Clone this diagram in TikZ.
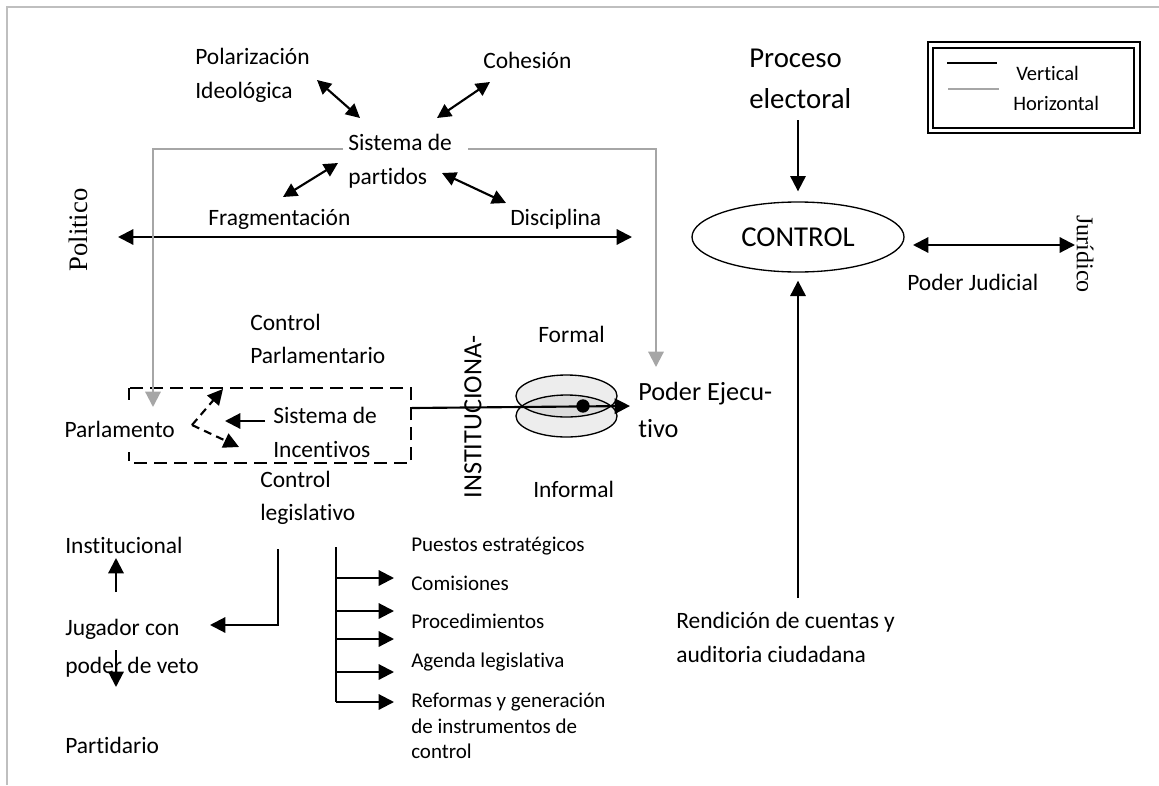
\documentclass[tikz,border=0pt]{standalone}
\usepackage{fontspec}
\setmainfont{Carlito}[RawFeature=-liga, RawFeature=-clig, RawFeature=-calt]
\newfontfamily\serifJ{Liberation Serif}
\usetikzlibrary{arrows.meta,shapes.geometric}
\definecolor{bordergray}{RGB}{191,191,191}
\definecolor{linegray}{RGB}{166,166,166}
\tikzset{
  txtA/.style={inner sep=0pt, anchor=base west, font=\fontsize{17.6}{21}\selectfont},
  txtB/.style={txtA, font=\fontsize{19.7}{24}\selectfont},
  txtC/.style={txtA, font=\fontsize{21.6}{26}\selectfont},
  txtL/.style={txtA, font=\fontsize{15.4}{18}\selectfont},
  txtS/.style={txtA, font=\fontsize{15.75}{19}\selectfont},
  blk/.style={line width=1.6pt, draw=black},
  oneway/.style={blk, -{Triangle[length=11.5pt,width=11.5pt]}},
  twoway/.style={blk, {Triangle[length=11.5pt,width=11.5pt]}-{Triangle[length=11.5pt,width=11.5pt]}},
  smallway/.style={blk, {Triangle[length=10.5pt,width=10.5pt]}-{Triangle[length=10.5pt,width=10.5pt]}},
  grayway/.style={line width=1.6pt, draw=linegray, -{Triangle[length=11.5pt,width=11.5pt]}},
  dashway/.style={oneway, dash pattern=on 6pt off 4pt},
  dashbox/.style={line width=1.6pt, dash pattern=on 10pt off 5pt},
  disc/.style={draw=black, line width=1pt, fill=black, fill opacity=0.07, draw opacity=1}
}
\begin{document}
\begin{tikzpicture}[x=0.75pt,y=-0.75pt]
\useasboundingbox (0,0) rectangle (1159,785);
% frame
\draw[bordergray, line width=1.5pt] (7,785) -- (7,7) -- (1159,7);

% legend
\draw[line width=1.6pt] (928,42) rectangle (1140,133);
\draw[line width=0.8pt] (933,48) rectangle (1134,128);
\coordinate (lva) at (947,63); \coordinate (lvb) at (997,63);
\coordinate (lha) at (948,89); \coordinate (lhb) at (999,89);
\draw[blk] (lva) -- (lvb);
\draw[line width=1.5pt, draw=linegray] (lha) -- (lhb);
\node[txtL] (leg1) at (1016,80) {Vertical};
\node[txtL] (leg2) at (1013,110) {Horizontal};

% party system
\node[txtA] (pol1) at (195,64) {Polarización};
\node[txtA] (pol2) at (195,98) {Ideológica};
\node[txtA] (coh) at (483,68) {Cohesión};
\node[txtA] (sis1) at (348,150) {Sistema de};
\node[txtA] (sis2) at (348,184) {partidos};
\node[txtA] (frag) at (208,225) {Fragmentación};
\node[txtA] (disc) at (510,225) {Disciplina};
\coordinate (p1) at (317,80); \coordinate (p2) at (360,118);
\coordinate (c1) at (490,82); \coordinate (c2) at (437,118);
\coordinate (f1) at (283,197); \coordinate (f2) at (338,163);
\coordinate (d1) at (442,173); \coordinate (d2) at (506,203);
\draw[smallway] (p1) -- (p2);
\draw[smallway] (c1) -- (c2);
\draw[smallway] (f1) -- (f2);
\draw[smallway] (d1) -- (d2);

% politico axis
\node[inner sep=0pt, rotate=90, font=\serifJ\fontsize{20}{24}\selectfont] (politico) at (78,230) {Politico};
\coordinate (ha) at (118,237); \coordinate (hb) at (632,237);
\draw[twoway] (ha) -- (hb);

% Proceso electoral / CONTROL
\node[txtC] (proc1) at (749,67) {Proceso};
\node[txtC] (proc2) at (749,108) {electoral};
\node[draw, ellipse, line width=1pt, minimum width=159pt, minimum height=52.5pt, inner sep=0pt,
      font=\fontsize{21.6}{26}\selectfont] (control) at (798,237) {CONTROL};
\coordinate (pa) at (798,120);
\draw[oneway] (pa) -- ([yshift=7.5pt]control.north);
\node[inner sep=0pt, rotate=-90, font=\serifJ\fontsize{18}{22}\selectfont] (jur) at (1085,254) {Jurídico};
\coordinate (ja) at (913,245); \coordinate (jb) at (1075,245);
\draw[twoway] (ja) -- (jb);
\node[txtA] (pj) at (907,290) {Poder Judicial};
\node[txtA] (ren1) at (676,628) {Rendición de cuentas y};
\node[txtA] (ren2) at (676,662) {auditoria ciudadana};
\coordinate (ra) at (798,598);
\draw[oneway] (ra) -- ([yshift=-6pt]control.south);

% parliament area
\node[txtA] (cp1) at (250,330) {Control};
\node[txtA] (cp2) at (250,363) {Parlamentario};
\draw[dashbox] (129,388) rectangle (411,463);
\node[txtA, fill=white, inner xsep=1pt, text height=27.75pt, text depth=11.25pt] (parl) at (63,437) {Parlamento};
\node[txtA] (si1) at (273,423) {Sistema de};
\node[txtA] (si2) at (273,457) {Incentivos};
\coordinate (v) at (192,425);
\coordinate (vu) at (223,389); \coordinate (vd) at (239,447);
\draw[dashway] (v) -- (vu);
\draw[dashway] (v) -- (vd);
\coordinate (sa) at (265,421); \coordinate (sb) at (225,421);
\draw[oneway] (sa) -- (sb);
\node[txtA] (cl1) at (260,487) {Control};
\node[txtA] (cl2) at (260,520) {legislativo};

% gray horizontal relations
\coordinate (gl0) at (343,149); \coordinate (gl1) at (153,407);
\coordinate (gr0) at (468,149); \coordinate (gr1) at (656,367);
\draw[grayway] (gl0) -| (gl1);
\draw[grayway] (gr0) -| (gr1);

% executive
\node[txtA] (formal) at (538,342) {Formal};
\node[txtA] (informal) at (533,497) {Informal};
\node[inner sep=0pt, rotate=90, font=\fontsize{19.7}{24}\selectfont] (inst) at (473,417) {INSTITUCIONA-};
\path[disc] (566.5,396) ellipse [x radius=37.9pt, y radius=15.75pt];
\path[disc] (566.5,416) ellipse [x radius=37.9pt, y radius=15.75pt];
\node[txtB] (pe1) at (638,400) {Poder Ejecu-};
\node[txtB] (pe2) at (638,437) {tivo};
\coordinate (ea) at (412,408); \coordinate (eb) at (630,406);
\draw[oneway] (ea) -- (eb);
\fill (583,406) circle [radius=5pt];

% veto player
\node[txtA] (insti) at (65,553) {Institucional};
\node[txtA] (jug1) at (65,635) {Jugador con};
\node[txtA] (jug2) at (65,673) {poder de veto};
\node[txtA] (part) at (65,753) {Partidario};
\coordinate (ua) at (116,592); \coordinate (ub) at (116,558);
\coordinate (da) at (116,650); \coordinate (db) at (116,687);
\draw[oneway] (ua) -- (ub);
\draw[oneway] (da) -- (db);
\coordinate (ka) at (278,549); \coordinate (kb) at (210,625);
\draw[oneway] (ka) |- (kb);

% list of instruments
\node[txtS] (l1) at (411,551) {Puestos estratégicos};
\node[txtS] (l2) at (411,590) {Comisiones};
\node[txtS] (l3) at (411,628) {Procedimientos};
\node[txtS] (l4) at (411,667) {Agenda legislativa};
\node[txtS] (l5) at (411,707) {Reformas y generación};
\node[txtS] (l6) at (411,733) {de instrumentos de};
\node[txtS] (l7) at (411,758) {control};
\coordinate (bt) at (336,547); \coordinate (bb) at (336,702);
\draw[blk] (bt) -- (bb);
\foreach \yy/\nm in {578/a,611/b,639/c,672/d,702/e}{
  \coordinate (bs\nm) at (336,\yy);
  \coordinate (be\nm) at (394,\yy);
  \draw[oneway] (bs\nm) -- (be\nm);
}
\end{tikzpicture}
\end{document}
